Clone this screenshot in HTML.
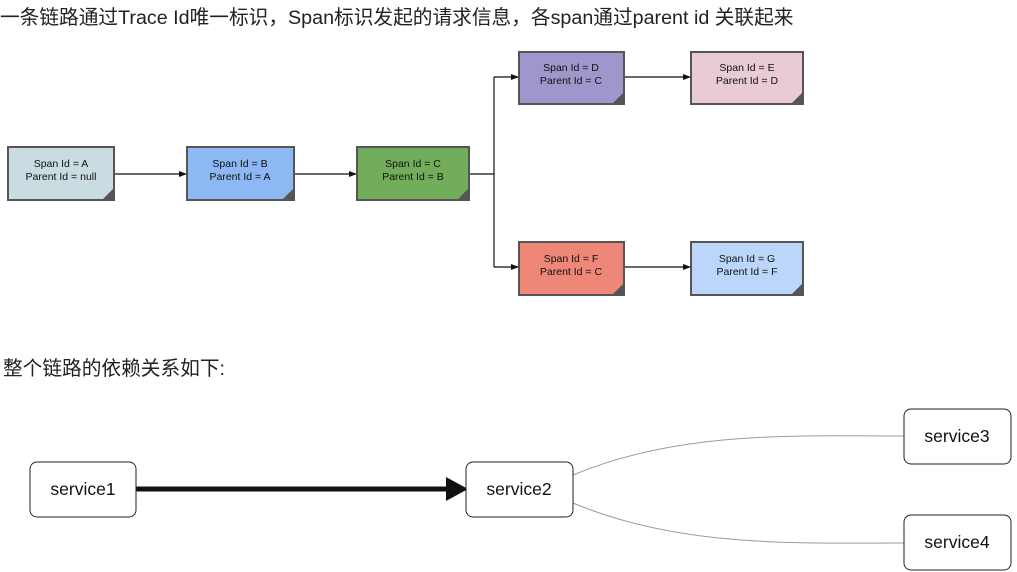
<!DOCTYPE html>
<html><head><meta charset="utf-8"><style>
body{margin:0;background:#fff;width:1017px;height:572px;overflow:hidden}
svg{display:block}
.t{font-family:"Liberation Sans","Noto Sans CJK SC",sans-serif}
</style></head><body>
<svg width="1017" height="572" viewBox="0 0 1017 572" xmlns="http://www.w3.org/2000/svg">
<defs>
<marker id="a" markerWidth="8" markerHeight="6" refX="8" refY="3" orient="auto" markerUnits="userSpaceOnUse"><path d="M0,0 L8,3 L0,6z" fill="#111"/></marker>
</defs>
<text class="t" x="0" y="24" font-size="19.7" fill="#222">一条链路通过Trace Id唯一标识，Span标识发起的请求信息，各span通过parent id 关联起来</text>
<g stroke="#111" stroke-width="1.2" fill="none">
<line x1="114" y1="174" x2="187" y2="174" marker-end="url(#a)"/>
<line x1="294" y1="174" x2="357" y2="174" marker-end="url(#a)"/>
<polyline points="469,174 494,174"/>
<polyline points="494,77 494,267"/>
<line x1="494" y1="77" x2="519" y2="77" marker-end="url(#a)"/>
<line x1="494" y1="267" x2="519" y2="267" marker-end="url(#a)"/>
<line x1="624" y1="77" x2="691" y2="77" marker-end="url(#a)"/>
<line x1="624" y1="267" x2="691" y2="267" marker-end="url(#a)"/>
</g>
<g class="t" font-size="10.5" text-anchor="middle" fill="#111" stroke-width="2">
<g><rect x="8" y="147" width="106" height="53" fill="#c9dce1" stroke="#555"/><path d="M102,200 L114,188 L114,200z" fill="#555"/><text x="61" y="167">Span Id = A</text><text x="61" y="180">Parent Id = null</text></g>
<g><rect x="187" y="147" width="107" height="53" fill="#8db8f3" stroke="#555"/><path d="M282,200 L294,188 L294,200z" fill="#555"/><text x="240" y="167">Span Id = B</text><text x="240" y="180">Parent Id = A</text></g>
<g><rect x="357" y="147" width="112" height="53" fill="#72ad5c" stroke="#555"/><path d="M457,200 L469,188 L469,200z" fill="#555"/><text x="413" y="167">Span Id = C</text><text x="413" y="180">Parent Id = B</text></g>
<g><rect x="519" y="52" width="105" height="52" fill="#9e97cc" stroke="#555"/><path d="M612,104 L624,92 L624,104z" fill="#555"/><text x="571" y="71">Span Id = D</text><text x="571" y="84">Parent Id = C</text></g>
<g><rect x="691" y="52" width="112" height="52" fill="#e8cbd4" stroke="#555"/><path d="M791,104 L803,92 L803,104z" fill="#555"/><text x="747" y="71">Span Id = E</text><text x="747" y="84">Parent Id = D</text></g>
<g><rect x="519" y="242" width="105" height="53" fill="#ef8778" stroke="#555"/><path d="M612,295 L624,283 L624,295z" fill="#555"/><text x="571" y="262">Span Id = F</text><text x="571" y="275">Parent Id = C</text></g>
<g><rect x="691" y="242" width="112" height="53" fill="#bcd6fb" stroke="#555"/><path d="M791,295 L803,283 L803,295z" fill="#555"/><text x="747" y="262">Span Id = G</text><text x="747" y="275">Parent Id = F</text></g>
</g>
<text class="t" x="3" y="375" font-size="19.7" fill="#222">整个链路的依赖关系如下:</text>
<g fill="none" stroke="#999" stroke-width="1">
<path d="M573,475 C680,430 800,436 904,436"/>
<path d="M573,503 C680,548 800,543 904,543"/>
</g>
<line x1="136" y1="489" x2="450" y2="489" stroke="#111" stroke-width="5"/>
<path d="M446,477 L468,489 L446,501z" fill="#111"/>
<g class="t" font-size="17.5" text-anchor="middle" fill="#111">
<rect x="30" y="462" width="106" height="55" rx="7" fill="#fff" stroke="#222"/><text x="83" y="495">service1</text>
<rect x="466" y="462" width="107" height="55" rx="7" fill="#fff" stroke="#222"/><text x="519" y="495">service2</text>
<rect x="904" y="409" width="107" height="55" rx="7" fill="#fff" stroke="#222"/><text x="957" y="442">service3</text>
<rect x="904" y="515" width="107" height="55" rx="7" fill="#fff" stroke="#222"/><text x="957" y="548">service4</text>
</g>
</svg>
</body></html>
